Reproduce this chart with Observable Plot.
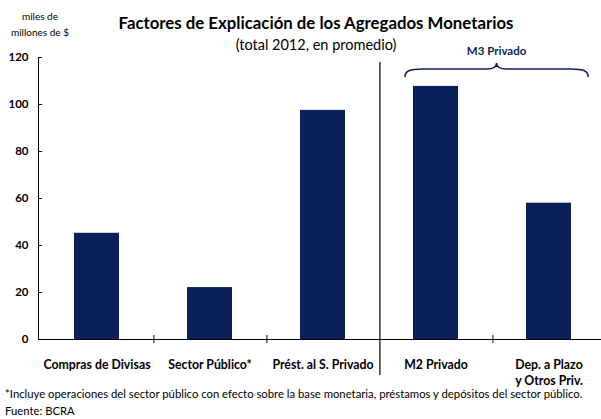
<!DOCTYPE html>
<html>
<head>
<meta charset="utf-8">
<script src="https://cdn.jsdelivr.net/npm/d3@7"></script>
<script src="https://cdn.jsdelivr.net/npm/@observablehq/plot@0.6"></script>
<style>
  html, body { margin: 0; padding: 0; background: #fff; overflow: hidden; }
  #wrap { position: relative; width: 601px; height: 419px; overflow: hidden; font-family: Lato, "Open Sans", sans-serif; color: #000; }
  #chart { position: absolute; left: 0; top: 0; width: 608px; height: 419px; line-height: 0; }
  #chart svg { max-width: none !important; width: 608px !important; height: 419px !important; display: block; }
  .abs { position: absolute; white-space: nowrap; }
  #title { left: 0; width: 632px; top: 12px; text-align: center; font-weight: bold; font-size: 16.8px; }
  #subtitle { left: 0; width: 632px; top: 36px; text-align: center; font-size: 14.5px; }
  .unit { left: 0; width: 80px; text-align: center; font-size: 10px; }
  .foot { left: 5px; font-size: 11.3px; }
</style>
</head>
<body>
<div id="wrap">
  <div id="chart"></div>
  <div class="abs" id="title">Factores de Explicación de los Agregados Monetarios</div>
  <div class="abs" id="subtitle">(total 2012, en promedio)</div>
  <div class="abs unit" style="top:10px">miles de</div>
  <div class="abs unit" style="top:26px">millones de $</div>
  <div class="abs foot" style="top:387px">*Incluye operaciones del sector público con efecto sobre la base monetaria, préstamos y depósitos del sector público.</div>
  <div class="abs foot" style="top:404px">Fuente: BCRA</div>
</div>
<script>
const categories = ["Compras de Divisas", "Sector Público*", "Prést. al S. Privado", "M2 Privado", "Dep. a Plazo\ny Otros Priv."];
const values = [45.2, 22.1, 97.5, 107.7, 58.0];
const yTicks = [0, 20, 40, 60, 80, 100, 120];
const groupLabel = "M3 Privado";
const groupMembers = ["M2 Privado", "Dep. a Plazo\ny Otros Priv."];
const tickAfter = ["Compras de Divisas", "Sector Público*", "M2 Privado"];
const separatorAfter = ["Prést. al S. Privado"];

const navy = "#0b1f5a";
const data = categories.map((c, i) => ({cat: c, value: values[i]}));

const W = 608, H = 419, ML = 38, MR = 1, MT = 57, MB = 80;
const step = (W - ML - MR) / categories.length;

function braceMark(index, scales) {
  const sc = (scales && scales.x) ? scales : index;
  const x0 = sc.x(groupMembers[0]);
  const x1 = sc.x(groupMembers[1]);
  const bw = (x1 - x0) * 0.4;
  const L = x0 - 8, R = x1 + bw + 17, M = (L + R) / 2;
  const top = sc.y(120);
  const yEnd = top + 20, yFlat = top + 12, yTip = top + 6;
  const p = `M${L},${yEnd} C${L},${yFlat + 2} ${L + 4},${yFlat} ${L + 18},${yFlat} L${M - 10},${yFlat} C${M - 4},${yFlat} ${M},${yFlat - 2} ${M},${yTip} C${M},${yFlat - 2} ${M + 4},${yFlat} ${M + 10},${yFlat} L${R - 18},${yFlat} C${R - 4},${yFlat} ${R},${yFlat + 2} ${R},${yEnd}`;
  const g = d3.create("svg:g");
  g.append("path").attr("d", p).attr("fill", "none").attr("stroke", navy).attr("stroke-width", 1.5);
  g.append("text").attr("x", M).attr("y", top - 2).attr("text-anchor", "middle")
    .attr("font-weight", "bold").attr("font-size", 11.5).attr("fill", navy).text(groupLabel);
  return g.node();
}

const chart = Plot.plot({
  width: W, height: H,
  marginLeft: ML, marginRight: MR, marginTop: MT, marginBottom: MB,
  style: {fontFamily: "Lato, 'Open Sans', sans-serif", fontSize: "11px", color: "#000", background: "transparent", overflow: "visible", maxWidth: "none"},
  x: {domain: categories, paddingInner: 0.6, paddingOuter: 0.3, axis: null},
  y: {domain: [0, 120], axis: null},
  marks: [
    Plot.barY(data, {x: "cat", y: "value", fill: navy}),
    Plot.ruleY(yTicks, {stroke: "#000", strokeWidth: 1, insetRight: W - ML - MR - 4}),
    Plot.frame({anchor: "left", stroke: "#000", strokeWidth: 1}),
    Plot.ruleY([0], {stroke: "#000", strokeWidth: 1}),
    Plot.ruleX(tickAfter, {x: d => d, y1: 0, y2: 0, insetTop: -4, insetBottom: -4, dx: step / 2, stroke: "#000"}),
    Plot.ruleX(separatorAfter, {x: d => d, y1: 120, y2: 0, insetTop: 5, insetBottom: -36, dx: step / 2, stroke: "#000", strokeWidth: 1.2}),
    Plot.axisY({ticks: yTicks, tickSize: 0, tickPadding: 10, fontWeight: "bold", fontSize: 11.5, label: null}),
    Plot.axisX({tickSize: 0, tickPadding: 18, fontWeight: "bold", fontSize: 12.3, lineHeight: 1.3, label: null}),
    braceMark
  ]
});
document.getElementById("chart").appendChild(chart);
</script>
</body>
</html>
